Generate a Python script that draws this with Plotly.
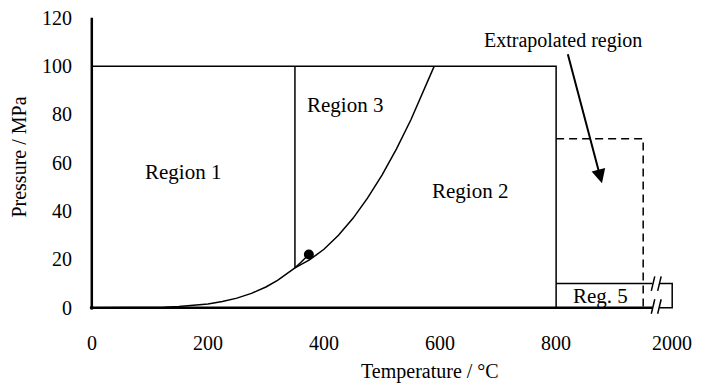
import plotly.graph_objects as go

# ---- data ----
x_ticks = [0, 200, 400, 600, 800, 1000]
x_tick_labels = ["0", "200", "400", "600", "800", "2000"]
y_ticks = [0, 20, 40, 60, 80, 100, 120]
y_tick_labels = ["0", "20", "40", "60", "80", "100", "120"]

# saturation curve (Region 1 / Region 2 boundary) up to the critical point
sat_T = [0, 25, 50, 75, 100, 125, 150, 175, 200, 225, 250, 275, 300, 320, 340, 350, 360, 370, 374]
sat_P = [0.0006, 0.003, 0.012, 0.039, 0.10, 0.23, 0.48, 0.89, 1.55, 2.55, 3.98, 5.94, 8.59,
         11.3, 14.6, 16.5, 18.7, 21.0, 22.06]
# Region 2 / Region 3 boundary
b23_T = [350, 375, 400, 425, 450, 475, 500, 525, 550, 575, 590]
b23_P = [16.5, 19.8, 24.2, 30.0, 37.0, 45.4, 54.9, 65.8, 77.9, 91.3, 100.0]
crit_T = [374]
crit_P = [22.06]

# region boundaries
outer_T = [0, 800, 800]
outer_P = [100, 100, 0]
r3_T = [350, 350]
r3_P = [16.5, 100]
extrap_T = [800, 950, 950]
extrap_P = [70, 70, 0]
reg5_left_T = [800, 966]
reg5_left_P = [10, 10]
reg5_right_T = [979, 1000, 1000, 979]
reg5_right_P = [10, 10, 0, 0]
break_x0 = [964, 975]
break_x1 = [970, 981]
break_y = [10, 0.5]

labels = ["Region 1", "Region 3", "Region 2", "Reg. 5"]
label_T = [157, 437, 652, 877]
label_P = [56, 84, 48.5, 5]

FONT = "Liberation Serif"
BLACK = "#000000"

fig = go.Figure()

def line(xs, ys, width=1.5, dash=None):
    fig.add_trace(go.Scatter(x=xs, y=ys, mode="lines",
                             line=dict(color=BLACK, width=width, dash=dash),
                             hoverinfo="skip", showlegend=False))

# axes drawn as lines
line([0, 0], [0, 120], width=2.5)
line([0, 966], [0, 0], width=2.5)

line(outer_T, outer_P)
line(r3_T, r3_P)
line(sat_T, sat_P)
line(b23_T, b23_P)
line(extrap_T, extrap_P, dash="8px,5px")
line(reg5_left_T, reg5_left_P)
line(reg5_right_T, reg5_right_P)
for yb in break_y:
    for a, b in zip(break_x0, break_x1):
        line([a, b], [yb - 3, yb + 3], width=1.5)

fig.add_trace(go.Scatter(x=crit_T, y=crit_P, mode="markers",
                         marker=dict(color=BLACK, size=10),
                         hoverinfo="skip", showlegend=False))
fig.add_trace(go.Scatter(x=[0], y=[0], mode="markers",
                         marker=dict(color=BLACK, size=4),
                         hoverinfo="skip", showlegend=False, cliponaxis=False))

ann = []
for t, x, y in zip(labels, label_T, label_P):
    ann.append(dict(x=x, y=y, xref="x", yref="y", text=t, showarrow=False,
                    font=dict(family=FONT, size=21, color=BLACK)))
for v, t in zip(x_ticks, x_tick_labels):
    ann.append(dict(x=v, y=0, xref="x", yref="y", text=t, showarrow=False,
                    yshift=-35, font=dict(family=FONT, size=20, color=BLACK)))
for v, t in zip(y_ticks, y_tick_labels):
    ann.append(dict(x=0, y=v, xref="x", yref="y", text=t, showarrow=False,
                    xanchor="right", xshift=-18, font=dict(family=FONT, size=20, color=BLACK)))
ann.append(dict(x=0.581, y=-0.188, xref="paper", yref="paper", text="Temperature / °C",
                xanchor="center", yanchor="middle",
                showarrow=False, font=dict(family=FONT, size=20, color=BLACK)))
ann.append(dict(x=-0.1123, y=0.523, xref="paper", yref="paper", text="Pressure / MPa",
                xanchor="center", yanchor="middle",
                showarrow=False, textangle=-90, font=dict(family=FONT, size=20, color=BLACK)))
ann.append(dict(x=812, y=110.5, xref="x", yref="y", text="Extrapolated region", showarrow=False,
                font=dict(family=FONT, size=20, color=BLACK)))
ann.append(dict(x=879, y=51.5, xref="x", yref="y", ax=819.5, ay=105.5, axref="x", ayref="y",
                text="", showarrow=True, arrowhead=2, arrowsize=1.4, arrowwidth=2,
                arrowcolor=BLACK, standoff=0))

fig.update_layout(
    width=702, height=388,
    margin=dict(l=86, r=24, t=13, b=73),
    paper_bgcolor="white", plot_bgcolor="white",
    xaxis=dict(range=[-10, 1010], showgrid=False, zeroline=False, showline=False,
               showticklabels=False, ticks=""),
    yaxis=dict(range=[-3, 122], showgrid=False, zeroline=False, showline=False,
               showticklabels=False, ticks=""),
    annotations=ann,
    font=dict(family=FONT, color=BLACK),
)

fig.write_html("out.html", config={"displayModeBar": False},
               post_script="document.body.style.margin='0';")
